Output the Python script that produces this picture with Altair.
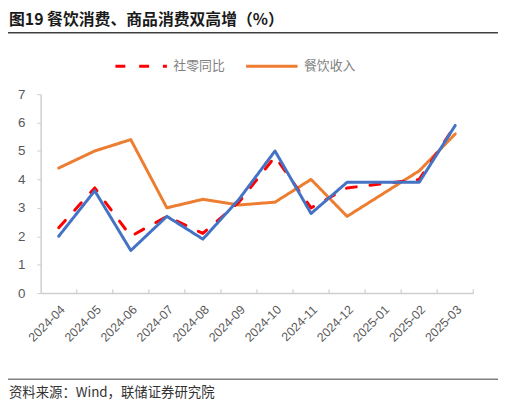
import pandas as pd
import altair as alt

# Monthly data, 2025-01 has no print (Jan-Feb reported together)
months = ["2024-04", "2024-05", "2024-06", "2024-07", "2024-08", "2024-09",
          "2024-10", "2024-11", "2024-12", "2025-01", "2025-02", "2025-03"]
retail_yoy = [2.3, 3.7, 2.0, 2.7, 2.1, 3.2, 4.8, 3.0, 3.7, None, 4.0, 5.9]
catering = [4.4, 5.0, 5.4, 3.0, 3.3, 3.1, 3.2, 4.0, 2.7, None, 4.3, 5.6]
goods = [2.0, 3.6, 1.5, 2.7, 1.9, 3.3, 5.0, 2.8, 3.9, None, 3.9, 5.9]
series_names = ["社零同比", "餐饮收入", "商品零售"]
legend_names = ["社零同比", "餐饮收入"]
y_ticks = [0, 1, 2, 3, 4, 5, 6, 7]

title_text = "图19 餐饮消费、商品消费双高增（%）"
source_text = "资料来源：Wind，联储证券研究院"

FONT = "Noto Sans CJK SC"
LABEL_FONT = "Liberation Sans"
GRAY = "#595959"
AXIS_GRAY = "#CFCFCF"


def build_data() -> pd.DataFrame:
    """Reshaping the three series into long format, dropping missing months."""
    rows = []
    for name, values in zip(series_names, [retail_yoy, catering, goods]):
        for m, v in zip(months, values):
            if v is not None:
                rows.append({"month": m, "series": name, "value": v})
    return pd.DataFrame(rows)


def x_enc(**kwargs) -> alt.X:
    return alt.X("month:O", sort=months,
                 scale=alt.Scale(type="band", domain=months,
                                 paddingInner=0, paddingOuter=0),
                 axis=alt.Axis(title=None, labelAngle=-45, ticks=False,
                               tickSize=0, labelFont=LABEL_FONT,
                               labelFontSize=12.5, labelColor=GRAY,
                               domainColor=AXIS_GRAY, domainWidth=1.5,
                               labelPadding=10),
                 **kwargs)


def line_layer(df: pd.DataFrame, name: str) -> alt.Chart:
    legend = alt.Legend(
        title=None, orient="none", legendX=74, legendY=-56,
        direction="horizontal", values=legend_names, symbolType="stroke",
        symbolSize=2704, symbolStrokeWidth=3, labelFont=FONT,
        labelFontSize=13, labelColor="#7F7F7F", labelOffset=5,
        columnPadding=14, padding=0)
    return (
        alt.Chart(df)
        .transform_filter(alt.datum.series == name)
        .mark_line(strokeWidth=3, strokeCap="round", strokeJoin="round")
        .encode(
            x=x_enc(),
            y=alt.Y("value:Q", scale=alt.Scale(domain=[0, 7], nice=False),
                    axis=alt.Axis(title=None, values=y_ticks, grid=False,
                                  labelFont=LABEL_FONT, labelFontSize=13.5,
                                  labelColor=GRAY, tickSize=4,
                                  tickColor=AXIS_GRAY, domainColor=AXIS_GRAY,
                                  domainWidth=1.5, labelPadding=12)),
            color=alt.Color("series:N",
                            scale=alt.Scale(domain=series_names,
                                            range=["#FF0000", "#ED7D31", "#4472C4"]),
                            legend=legend),
            strokeDash=alt.StrokeDash("series:N",
                                      scale=alt.Scale(domain=series_names,
                                                      range=[[10, 14], [1, 0], [1, 0]]),
                                      legend=legend),
        )
    )


def main():
    df = build_data()
    one = pd.DataFrame({"k": [0]})

    # Category tick marks at band edges, pointing into the plot
    x_ticks = alt.Chart(pd.DataFrame({"month": months})).mark_rule(
        color=AXIS_GRAY, strokeWidth=1.2
    ).encode(x=x_enc(bandPosition=1), y=alt.value(197), y2=alt.value(201))

    # Title and rules around the figure
    title = alt.Chart(one).mark_text(
        font=FONT, fontSize=16, fontWeight="bold", align="left",
        baseline="middle", color="#1A1A1A"
    ).encode(x=alt.value(-32), y=alt.value(-75), text=alt.value(title_text))

    top_rule = alt.Chart(one).mark_rule(color="#404040", strokeWidth=1.5).encode(
        x=alt.value(-33), x2=alt.value(462), y=alt.value(-62))

    bottom_rule = alt.Chart(one).mark_rule(color="#808080", strokeWidth=1.5).encode(
        x=alt.value(-33), x2=alt.value(462), y=alt.value(288))

    source = alt.Chart(one).mark_text(
        font=FONT, fontSize=13.5, align="left", baseline="middle", color="#333333"
    ).encode(x=alt.value(-32), y=alt.value(302), text=alt.value(source_text))

    lines = (line_layer(df, "餐饮收入") + line_layer(df, "社零同比")
             + line_layer(df, "商品零售"))

    chart = (
        alt.layer(x_ticks, lines, title, top_rule, bottom_rule, source)
        .properties(width=437, height=201,
                    autosize=alt.AutoSizeParams(type="none"),
                    padding={"left": 33, "top": 85, "right": 28, "bottom": 110})
        .configure_view(stroke=None)
    )
    chart.save("out.html", embed_options={"renderer": "svg", "actions": False})


if __name__ == "__main__":
    main()
